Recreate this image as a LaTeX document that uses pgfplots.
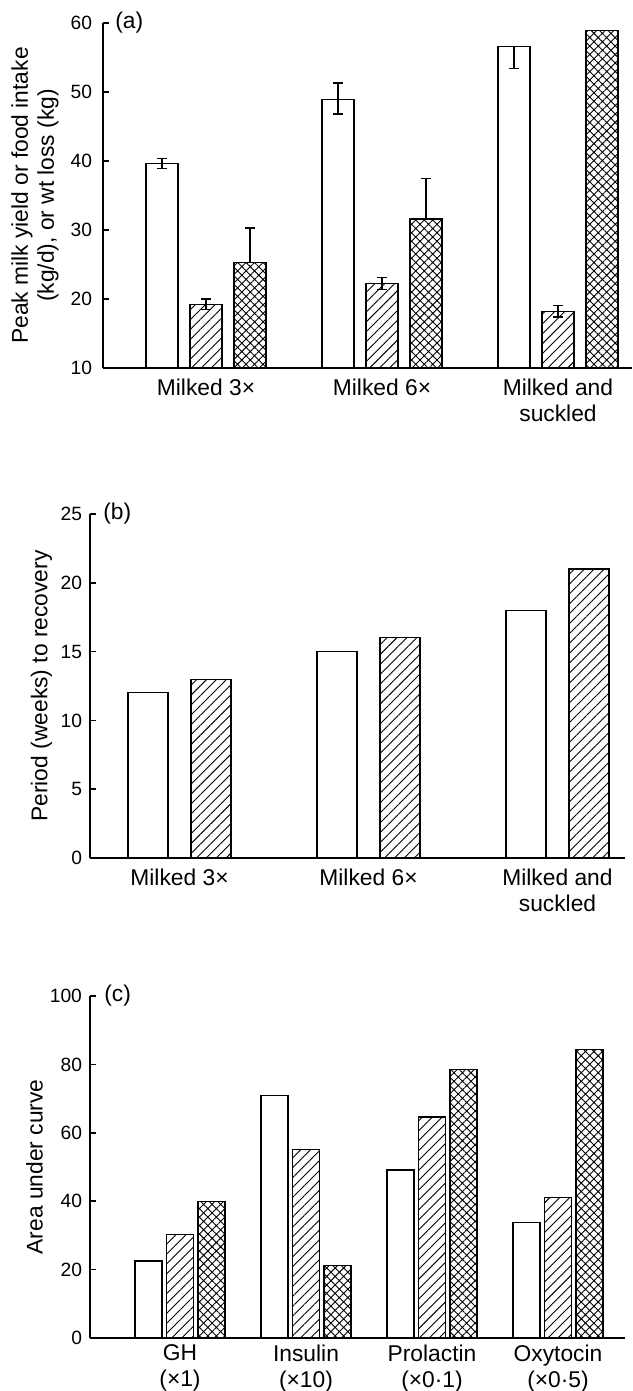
\documentclass[border=0pt]{standalone}
\usepackage{fontspec}
\setmainfont{Liberation Sans}
\usepackage{pgfplots}
\pgfplotsset{compat=1.18}
\usetikzlibrary{patterns.meta}
\newcommand\lab{\fontsize{11.4}{13}\selectfont}
\newcommand\tik{\fontsize{9.6}{11}\selectfont}
\pgfplotsset{
  panel/.style={
    scale only axis,
    anchor=south west,
    clip mode=individual,
    axis lines=left,
    axis line style={-, line width=0.8pt},
    xtick style={draw=none},
    ytick style={line width=0.8pt, black},
    major tick length=3pt,
    tick align=inside,
    /pgf/number format/assume math mode=true,
    yticklabel style={font=\tik},
    xticklabel style={font=\lab, align=center},
    ylabel style={font=\lab, align=center, anchor=center},
  },
  whitebar/.style={ybar, bar shift=0pt, draw=black, line width=0.6pt, fill=white},
  linebar/.style={ybar, bar shift=0pt, draw=black, line width=0.6pt, pattern={Lines[angle=45,distance=3.5pt,line width=0.45pt]}},
  crossbar/.style={ybar, bar shift=0pt, draw=black, line width=0.6pt, pattern={Hatch[angle=45,distance=3pt,line width=0.45pt]}},
  eb/.style={error bars/.cd, y dir=both, y explicit,
    error bar style={line width=0.6pt, solid, black},
    error mark options={rotate=90, mark size=2.3pt, line width=0.6pt, black}},
}
\begin{document}
\begin{tikzpicture}
\useasboundingbox (0,0) rectangle (316pt,695.5pt);
% ---------------- panel (a)
\begin{axis}[panel,
  at={(51.5pt,511.5pt)}, width=264.5pt, height=172.5pt,
  xmin=103, xmax=632, ymin=10, ymax=60,
  ytick={10,20,30,40,50,60},
  xtick={206,382,558},
  xticklabels={Milked 3×, Milked 6×, {Milked and\\suckled}},
  xticklabel style={yshift=-2pt},
  yticklabel style={xshift=-2pt},
  ylabel={Peak milk yield or food intake\\(kg/d), or wt loss (kg)},
  ylabel style={at={(axis description cs:-0.1285,0.5)}},
]
\addplot[whitebar, bar width=32, eb] coordinates {
  (162,39.6) += (0,0.8) -= (0,0.7)
  (338,48.9) += (0,2.4) -= (0,2.1)
  (514,56.6) += (0,0) -= (0,3.2)
};
\addplot[linebar, bar width=32, eb] coordinates {
  (206,19.2) += (0,0.8) -= (0,0.7)
  (382,22.2) += (0,0.9) -= (0,0.8)
  (558,18.2) += (0,0.9) -= (0,0.8)
};
\addplot[crossbar, bar width=32, eb] coordinates {
  (250,25.3) += (0,5.0) -= (0,0)
  (426,31.6) += (0,5.9) -= (0,0)
  (602,58.9) += (0,0) -= (0,0)
};
\node[anchor=west, font=\lab, inner sep=0pt] at (rel axis cs:0,1) [xshift=6pt] {(a)};
\end{axis}
% ---------------- panel (b)
\begin{axis}[panel,
  at={(45pt,266.5pt)}, width=267.5pt, height=172pt,
  xmin=90, xmax=625, ymin=0, ymax=25,
  ytick={0,5,10,15,20,25},
  xtick={179.5,368.5,557.5},
  xticklabels={Milked 3×, Milked 6×, {Milked and\\suckled}},
  xticklabel style={yshift=-2pt},
  yticklabel style={xshift=-0.5pt},
  ylabel={Period (weeks) to recovery},
  ylabel style={at={(axis description cs:-0.0907,0.5)}},
]
\addplot[whitebar, bar width=40] coordinates {(148,12) (337,15) (526,18)};
\addplot[linebar, bar width=40] coordinates {(211,13) (400,16) (589,21)};
\node[anchor=west, font=\lab, inner sep=0pt] at (rel axis cs:0,1) [xshift=6.5pt] {(b)};
\end{axis}
% ---------------- panel (c)
\begin{axis}[panel,
  at={(45pt,26.5pt)}, width=267.5pt, height=171pt,
  xmin=90, xmax=625, ymin=0, ymax=100,
  ytick={0,20,40,60,80,100},
  xtick={180,306,432,558},
  xticklabels={{GH\\(×1)}, {Insulin\\(×10)}, {Prolactin\\(×0·1)}, {Oxytocin\\(×0·5)}},
  yticklabel style={xshift=-0.5pt},
  ylabel={Area under curve},
  ylabel style={at={(axis description cs:-0.1037,0.5)}},
]
\addplot[whitebar, bar width=27] coordinates {(148.5,22.5) (274.5,71.0) (400.5,49.1) (526.5,33.7)};
\addplot[linebar, bar width=27] coordinates {(180,30.2) (306,55.0) (432,64.6) (558,41.0)};
\addplot[crossbar, bar width=27] coordinates {(211.5,39.8) (337.5,21.1) (463.5,78.4) (589.5,84.4)};
\node[anchor=west, font=\lab, inner sep=0pt] at (rel axis cs:0,1) [xshift=7pt] {(c)};
\end{axis}
\end{tikzpicture}
\end{document}
